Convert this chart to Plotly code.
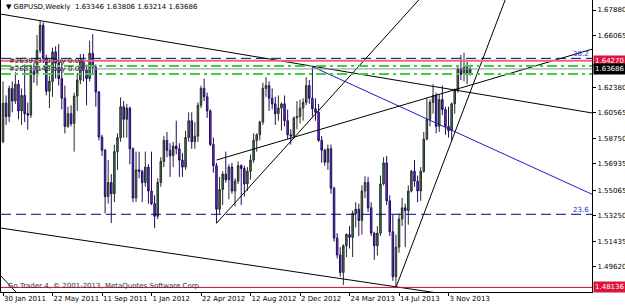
import pandas as pd
import plotly.graph_objects as go

# ---------------- data ----------------
symbol_title = "GBPUSD,Weekly"
first_week = "2011-01-30"

open_ = [1.5850, 1.6125, 1.6030, 1.6230, 1.6140, 1.6260, 1.6070, 1.6180, 1.6050, 1.6040,
         1.6350, 1.6330, 1.6500, 1.6680, 1.6446, 1.6210, 1.6280, 1.6490, 1.6410, 1.6300,
         1.6160, 1.5960, 1.6050, 1.5980, 1.6175, 1.6290, 1.6430, 1.6360, 1.6300, 1.6480,
         1.6380, 1.6205, 1.5884, 1.5790, 1.5460, 1.5560, 1.5480, 1.5780, 1.5880, 1.6100,
         1.6010, 1.6090, 1.5800, 1.5450, 1.5650, 1.5640, 1.5560, 1.5670, 1.5500, 1.5410,
         1.5320, 1.5560, 1.5710, 1.5860, 1.5790, 1.5750, 1.5820, 1.5800, 1.5720, 1.5670,
         1.5880, 1.6000, 1.5850, 1.5890, 1.6110, 1.6230, 1.6170, 1.6070, 1.5830, 1.5680,
         1.5370, 1.5510, 1.5620, 1.5580, 1.5670, 1.5500, 1.5570, 1.5680, 1.5660, 1.5550,
         1.5640, 1.5720, 1.5860, 1.5900, 1.5990, 1.6230, 1.6250, 1.6160, 1.6120, 1.6050,
         1.6090, 1.6120, 1.6000, 1.5900, 1.5890, 1.6020, 1.6030, 1.6090, 1.6130, 1.6250,
         1.6160, 1.6085, 1.6060, 1.5860, 1.5790, 1.5705, 1.5800, 1.5520, 1.5165, 1.5045,
         1.4920, 1.5110, 1.5190, 1.5170, 1.5340, 1.5370, 1.5290, 1.5500, 1.5560, 1.5380,
         1.5200, 1.5110, 1.5200, 1.5550, 1.5700, 1.5430, 1.5210, 1.4890, 1.5100, 1.5300,
         1.5380, 1.5360, 1.5500, 1.5640, 1.5570, 1.5500, 1.5640, 1.5870, 1.6010, 1.6130,
         1.6180, 1.5960, 1.6150, 1.6080, 1.5960, 1.5930, 1.6120, 1.6220, 1.6370, 1.6330,
         1.6380, 1.63346]
high = [1.6280, 1.6180, 1.6250, 1.6280, 1.6345, 1.6290, 1.6230, 1.6400, 1.6130, 1.6400,
        1.6410, 1.6610, 1.6710, 1.6700, 1.6470, 1.6320, 1.6520, 1.6530, 1.6545, 1.6420,
        1.6250, 1.6100, 1.6110, 1.6200, 1.6340, 1.6475, 1.6475, 1.6400, 1.6570, 1.6617,
        1.6400, 1.6210, 1.5900, 1.5800, 1.5720, 1.5620, 1.5830, 1.5910, 1.6166, 1.6140,
        1.6120, 1.6100, 1.5810, 1.5780, 1.5780, 1.5650, 1.5780, 1.5690, 1.5780, 1.5470,
        1.5590, 1.5740, 1.5890, 1.5920, 1.5840, 1.5850, 1.6000, 1.5840, 1.5770, 1.5930,
        1.6060, 1.6060, 1.5990, 1.6130, 1.6250, 1.6300, 1.6200, 1.6080, 1.5880, 1.5700,
        1.5600, 1.5640, 1.5780, 1.5690, 1.5700, 1.5590, 1.5710, 1.5690, 1.5680, 1.5670,
        1.5760, 1.5910, 1.5910, 1.6000, 1.6270, 1.6310, 1.6280, 1.6230, 1.6170, 1.6180,
        1.6130, 1.6180, 1.6080, 1.5940, 1.6030, 1.6140, 1.6150, 1.6160, 1.6310, 1.6290,
        1.6382, 1.6160, 1.6120, 1.5890, 1.5800, 1.5830, 1.5830, 1.5530, 1.5200, 1.5100,
        1.5120, 1.5200, 1.5250, 1.5360, 1.5420, 1.5410, 1.5540, 1.5605, 1.5600, 1.5420,
        1.5210, 1.5250, 1.5610, 1.5740, 1.5750, 1.5470, 1.5330, 1.5190, 1.5340, 1.5450,
        1.5410, 1.5540, 1.5650, 1.5720, 1.5610, 1.5670, 1.5920, 1.6160, 1.6150, 1.6260,
        1.6200, 1.6190, 1.6250, 1.6100, 1.6100, 1.6130, 1.6230, 1.6390, 1.6468, 1.6484,
        1.6420, 1.63806]
low = [1.5840, 1.5970, 1.5990, 1.6060, 1.6120, 1.6010, 1.5970, 1.5990, 1.5935, 1.6020,
       1.6270, 1.6250, 1.6480, 1.6410, 1.6180, 1.6090, 1.6170, 1.6300, 1.6250, 1.6080,
       1.5910, 1.5950, 1.5960, 1.5780, 1.6070, 1.6260, 1.6280, 1.6110, 1.6280, 1.6330,
       1.6100, 1.5860, 1.5750, 1.5340, 1.5410, 1.5272, 1.5420, 1.5650, 1.5850, 1.5880,
       1.5880, 1.5690, 1.5420, 1.5420, 1.5590, 1.5420, 1.5530, 1.5410, 1.5400, 1.5235,
       1.5300, 1.5530, 1.5670, 1.5740, 1.5600, 1.5670, 1.5760, 1.5600, 1.5600, 1.5650,
       1.5850, 1.5800, 1.5800, 1.5850, 1.6090, 1.6140, 1.6020, 1.5820, 1.5630, 1.5270,
       1.5340, 1.5400, 1.5560, 1.5440, 1.5480, 1.5390, 1.5550, 1.5400, 1.5460, 1.5500,
       1.5580, 1.5700, 1.5780, 1.5860, 1.5970, 1.6170, 1.6070, 1.6080, 1.5970, 1.6000,
       1.5930, 1.5960, 1.5870, 1.5830, 1.5870, 1.5940, 1.5980, 1.6000, 1.6110, 1.6120,
       1.6030, 1.6000, 1.5850, 1.5700, 1.5680, 1.5650, 1.5480, 1.5140, 1.5020, 1.4890,
       1.4830, 1.5030, 1.5090, 1.5030, 1.5240, 1.5180, 1.5190, 1.5450, 1.5350, 1.5180,
       1.5010, 1.5040, 1.5180, 1.5540, 1.5400, 1.5180, 1.4860, 1.4813, 1.5060, 1.5250,
       1.5100, 1.5260, 1.5490, 1.5530, 1.5420, 1.5430, 1.5630, 1.5860, 1.5960, 1.6050,
       1.5910, 1.5920, 1.6040, 1.5900, 1.5880, 1.5860, 1.6050, 1.6200, 1.6290, 1.6280,
       1.6260, 1.63214]
close = [1.6125, 1.6030, 1.6230, 1.6140, 1.6260, 1.6070, 1.6180, 1.6050, 1.6040, 1.6350,
         1.6330, 1.6500, 1.6680, 1.6446, 1.6210, 1.6280, 1.6490, 1.6410, 1.6300, 1.6160,
         1.5960, 1.6050, 1.5980, 1.6175, 1.6290, 1.6430, 1.6360, 1.6300, 1.6480, 1.6380,
         1.6205, 1.5884, 1.5790, 1.5460, 1.5560, 1.5480, 1.5780, 1.5880, 1.6100, 1.6010,
         1.6090, 1.5800, 1.5450, 1.5650, 1.5640, 1.5560, 1.5670, 1.5500, 1.5410, 1.5320,
         1.5560, 1.5710, 1.5860, 1.5790, 1.5750, 1.5820, 1.5800, 1.5720, 1.5670, 1.5880,
         1.6000, 1.5850, 1.5890, 1.6110, 1.6230, 1.6170, 1.6070, 1.5830, 1.5680, 1.5370,
         1.5510, 1.5620, 1.5580, 1.5670, 1.5500, 1.5570, 1.5680, 1.5660, 1.5550, 1.5640,
         1.5720, 1.5860, 1.5900, 1.5990, 1.6230, 1.6250, 1.6160, 1.6120, 1.6050, 1.6090,
         1.6120, 1.6000, 1.5900, 1.5890, 1.6020, 1.6030, 1.6090, 1.6130, 1.6250, 1.6160,
         1.6085, 1.6060, 1.5860, 1.5790, 1.5705, 1.5800, 1.5520, 1.5165, 1.5045, 1.4920,
         1.5110, 1.5190, 1.5170, 1.5340, 1.5370, 1.5290, 1.5500, 1.5560, 1.5380, 1.5200,
         1.5110, 1.5200, 1.5550, 1.5700, 1.5430, 1.5210, 1.4890, 1.5100, 1.5300, 1.5380,
         1.5360, 1.5500, 1.5640, 1.5570, 1.5500, 1.5640, 1.5870, 1.6010, 1.6130, 1.6180,
         1.5960, 1.6150, 1.6080, 1.5960, 1.5930, 1.6120, 1.6220, 1.6370, 1.6330, 1.6380,
         1.6335, 1.63686]

date_tick_weeks = ["2011-01-30", "2011-05-22", "2011-09-11", "2012-01-01", "2012-04-22",
                   "2012-08-12", "2012-12-02", "2013-03-24", "2013-07-14", "2013-11-03"]
date_tick_labels = ["30 Jan 2011", "22 May 2011", "11 Sep 2011", "1 Jan 2012", "22 Apr 2012",
                    "12 Aug 2012", "2 Dec 2012", "24 Mar 2013", "14 Jul 2013", "3 Nov 2013"]
price_ticks = [1.67880, 1.66065, 1.62380, 1.60565, 1.58750, 1.56935, 1.55065,
               1.53250, 1.51435, 1.49620, 1.47805]

# trend lines: start/end as (weeks after first bar, price)
trend_w0 = [-1, 100, 69, 127, 69, -1, -1]
trend_p0 = [1.6760, 1.6385, 1.5270, 1.4813, 1.5720, 1.5237, 1.4902]
trend_w1 = [191, 191, 140, 165, 191, 145, 5]
trend_p1 = [1.6053, 1.5470, 1.6996, 1.7016, 1.6513, 1.4759, 1.4762]
trend_color = ["#000000", "#1a1acc", "#000000", "#000000", "#000000", "#000000", "#000000"]

fib_levels = [1.6444, 1.5334]
fib_labels = ["38.2", "23.6"]
alert_levels = [1.64270, 1.48136]
order_levels = [1.63894, 1.63325]
order_labels = ["#26391370 buy 0.04", "#26337148 buy 0.03"]
copyright_text = "Go Trader 4, \u00a9 2001-2013, MetaQuotes Software Corp."

# y / x view
y_view = [1.47809, 1.68592]
x_view_weeks = [-0.646, 190.37]

# ---------------- figure ----------------
start = pd.Timestamp(first_week)
weeks = pd.date_range(first_week, periods=len(open_), freq="7D")
def wk(w):
    return start + pd.Timedelta(days=7 * w)

FONT = "DejaVu Sans"
fig = go.Figure()
fig.add_trace(go.Candlestick(
    x=weeks, open=open_, high=high, low=low, close=close,
    increasing=dict(fillcolor="#2e8b57", line=dict(color="#2a2a2a", width=1)),
    decreasing=dict(fillcolor="#8a2be2", line=dict(color="#1c0e5c", width=1)),
    whiskerwidth=0, hoverinfo="skip", showlegend=False,
))

for w0, p0, w1, p1, c in zip(trend_w0, trend_p0, trend_w1, trend_p1, trend_color):
    fig.add_trace(go.Scatter(x=[wk(w0), wk(w1)], y=[p0, p1], mode="lines",
                             line=dict(color=c, width=1), hoverinfo="skip", showlegend=False))

shapes = []
for lv in fib_levels:
    shapes.append(dict(type="line", xref="paper", x0=0, x1=1, yref="y", y0=lv, y1=lv,
                       line=dict(color="#00008b", width=1, dash="10px,5px")))
shapes.append(dict(type="line", xref="paper", x0=0, x1=1, yref="y", y0=alert_levels[0], y1=alert_levels[0],
                   line=dict(color="#ee6677", width=2)))
shapes.append(dict(type="line", xref="paper", x0=0, x1=1, yref="y", y0=alert_levels[1], y1=alert_levels[1],
                   line=dict(color="#c8102e", width=1)))
for lv in order_levels:
    shapes.append(dict(type="line", xref="paper", x0=0, x1=1, yref="y", y0=lv, y1=lv,
                       line=dict(color="#44cc44", width=2, dash="10px,4px,3px,4px")))
shapes.append(dict(type="line", xref="paper", x0=0, x1=1, yref="y", y0=close[-1], y1=close[-1],
                   line=dict(color="#8090a0", width=1)))

ann = []
title_text = "\u25bc " + symbol_title + "  " + " ".join(f"{v:.5f}" for v in (open_[-1], high[-1], low[-1], close[-1]))
ann.append(dict(text=title_text, xref="paper", yref="paper", x=0, y=1, xanchor="left", yanchor="top",
                xshift=3, yshift=-1, showarrow=False, font=dict(family=FONT, size=7, color="black")))
for lv, lab in zip(fib_levels, fib_labels):
    ann.append(dict(text=lab, xref="paper", yref="y", x=1, y=lv, xanchor="right", yanchor="bottom",
                    xshift=-1, yshift=-2, showarrow=False, font=dict(family=FONT, size=7, color="#2030d0")))
for lv, lab in zip(order_levels, order_labels):
    ann.append(dict(text=lab, xref="paper", yref="y", x=0, y=lv, xanchor="left", yanchor="bottom",
                    xshift=6, yshift=-1, showarrow=False, font=dict(family=FONT, size=7, color="#222222")))
ann.append(dict(text=copyright_text, xref="paper", yref="paper", x=0, y=0, xanchor="left", yanchor="bottom",
                xshift=5, yshift=0, showarrow=False, font=dict(family=FONT, size=7, color="#333333")))
for lv, bg in ((alert_levels[0], "#dc143c"), (close[-1], "#000000"), (alert_levels[1], "#dc143c")):
    ann.append(dict(text=f"{lv:.5f}", xref="paper", yref="y", x=1, y=lv, xanchor="left", yanchor="middle",
                    xshift=1, showarrow=False, bgcolor=bg, borderpad=1,
                    font=dict(family=FONT, size=7, color="white")))

fig.update_layout(
    width=625, height=308, margin=dict(l=1, r=33, t=0, b=16),
    paper_bgcolor="white", plot_bgcolor="white", showlegend=False,
    font=dict(family=FONT, size=7, color="black"),
    shapes=shapes, annotations=ann,
    xaxis=dict(type="date", range=[wk(x_view_weeks[0]), wk(x_view_weeks[1])],
               tickvals=date_tick_weeks, ticktext=date_tick_labels, tickangle=0,
               ticks="outside", ticklen=3, tickcolor="black", ticklabelposition="outside right",
               showgrid=False, zeroline=False, showline=True, linecolor="#000000", mirror=True,
               rangeslider=dict(visible=False), tickfont=dict(family=FONT, size=7)),
    yaxis=dict(side="right", range=y_view, tickvals=price_ticks,
               ticktext=[f"{v:.5f}" for v in price_ticks],
               ticks="outside", ticklen=3, tickcolor="black",
               showgrid=False, zeroline=False, showline=True, linecolor="#000000", mirror=True,
               tickfont=dict(family=FONT, size=7)),
)

fig.write_html("out.html")
